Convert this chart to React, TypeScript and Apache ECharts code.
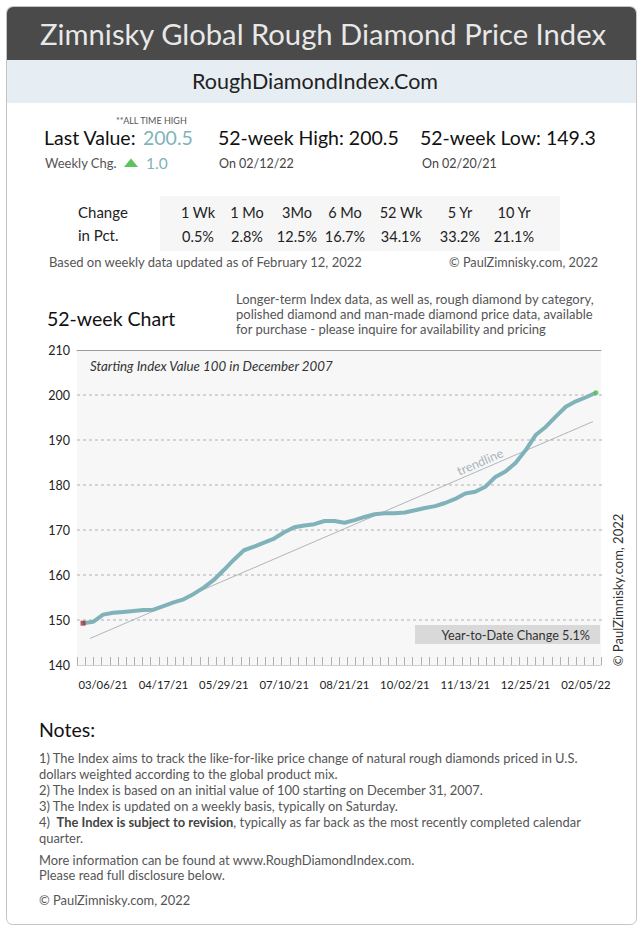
import React, { useEffect, useRef } from "react";
import * as echarts from "echarts";

const dates = [
  "02/20/21", "02/27/21", "03/06/21", "03/13/21", "03/20/21", "03/27/21", "04/03/21", "04/10/21",
  "04/17/21", "04/24/21", "05/01/21", "05/08/21", "05/15/21", "05/22/21", "05/29/21", "06/05/21",
  "06/12/21", "06/19/21", "06/26/21", "07/03/21", "07/10/21", "07/17/21", "07/24/21", "07/31/21",
  "08/07/21", "08/14/21", "08/21/21", "08/28/21", "09/04/21", "09/11/21", "09/18/21", "09/25/21",
  "10/02/21", "10/09/21", "10/16/21", "10/23/21", "10/30/21", "11/06/21", "11/13/21", "11/20/21",
  "11/27/21", "12/04/21", "12/11/21", "12/18/21", "12/25/21", "01/01/22", "01/08/22", "01/15/22",
  "01/22/22", "01/29/22", "02/05/22", "02/12/22",
];

const indexValues = [
  149.3, 149.6, 151.2, 151.6, 151.8, 152.0, 152.2, 152.3, 153.1, 153.9,
  154.6, 155.8, 157.2, 158.9, 161.1, 163.4, 165.5, 166.3, 167.2, 168.1,
  169.5, 170.6, 171.0, 171.3, 172.0, 172.0, 171.6, 172.2, 172.9, 173.5,
  173.7, 173.7, 173.9, 174.4, 174.9, 175.3, 176.0, 176.9, 178.1, 178.5,
  179.6, 181.8, 183.0, 184.9, 187.7, 191.1, 192.9, 195.2, 197.4, 198.6,
  199.5, 200.5,
];

const trendX = [0.7, 50.7];
const trendY = [145.9, 194.1];

const labelIdx = [2, 8, 14, 20, 26, 32, 38, 44, 50];
const yMin = 140;
const yMax = 210;
const yStep = 10;
const gridValues = [150, 160, 170, 180, 190, 200];

const periods = ["1 Wk", "1 Mo", "3Mo", "6 Mo", "52 Wk", "5 Yr", "10 Yr"];
const pctChanges = ["0.5%", "2.8%", "12.5%", "16.7%", "34.1%", "33.2%", "21.1%"];
const periodX = [198, 247, 297, 345, 401, 460, 514];

const FONT = "Lato, 'Open Sans', sans-serif";

function T(text: string, x: number, y: number, size: number, color: string, opts: any = {}) {
  const align = opts.align || "left";
  return {
    type: "text",
    x,
    y,
    rotation: opts.rotation || 0,
    z: 10,
    style: {
      text,
      fill: color,
      fontSize: size,
      fontFamily: FONT,
      fontWeight: opts.weight || "normal",
      fontStyle: opts.italic ? "italic" : "normal",
      textAlign: align,
      align,
      textVerticalAlign: "middle",
      verticalAlign: "middle",
      rich: opts.rich,
    },
  };
}

export default function App() {
  const ref = useRef<HTMLDivElement>(null);

  useEffect(() => {
    if (!ref.current) return;
    const chart = echarts.init(ref.current, null, { renderer: "svg" });

    const graphics: any[] = [
      {
        type: "rect",
        shape: { x: 6.5, y: 6.5, width: 630, height: 918, r: 6 },
        style: { fill: "none", stroke: "#c4c4c4", lineWidth: 1 },
        z: 0,
      },
      {
        type: "rect",
        shape: { x: 7, y: 7, width: 629, height: 53, r: [6, 6, 0, 0] },
        style: { fill: "#4a4a4a" },
        z: 1,
      },
      {
        type: "rect",
        shape: { x: 7, y: 60, width: 629, height: 43 },
        style: { fill: "#e6eef3" },
        z: 1,
      },
      T("Zimnisky Global Rough Diamond Price Index", 323, 33, 29.2, "#e8e8e8", { align: "center" }),
      T("RoughDiamondIndex.Com", 315, 81, 21.5, "#222222", { align: "center" }),

      T("**ALL TIME HIGH", 116, 120, 9, "#555555"),
      T("Last Value:", 44, 137, 19.5, "#111111"),
      T("200.5", 143, 137, 19.5, "#7fb3b8"),
      T("52-week High: 200.5", 218, 137, 19.5, "#111111"),
      T("52-week Low: 149.3", 420, 137, 19.5, "#111111"),
      T("Weekly Chg.", 45, 163, 13, "#555555"),
      {
        type: "polygon",
        shape: { points: [[124, 167], [131, 158.5], [138, 167]] },
        style: { fill: "#5cc45c" },
        z: 10,
      },
      T("1.0", 146, 163, 15.5, "#7fb3b8"),
      T("On 02/12/22", 219, 163, 12.5, "#444444"),
      T("On 02/20/21", 422, 163, 12.5, "#444444"),

      {
        type: "rect",
        shape: { x: 160, y: 196, width: 400, height: 55 },
        style: { fill: "#f6f6f6" },
        z: 2,
      },
      T("Change", 78, 212, 15, "#222222"),
      T("in Pct.", 78, 235, 15, "#222222"),
      ...periods.map((p, i) => T(p, periodX[i], 212, 14.5, "#222222", { align: "center" })),
      ...pctChanges.map((p, i) => T(p, periodX[i], 236, 14.5, "#222222", { align: "center" })),
      T("Based on weekly data updated as of February 12, 2022", 49, 262, 13, "#555555"),
      T("© PaulZimnisky.com, 2022", 598, 262, 12.7, "#555555", { align: "right" }),

      T("52-week Chart", 47, 318, 19.5, "#111111"),
      T("Longer-term Index data, as well as, rough diamond by category,", 236, 299, 13, "#555555"),
      T("polished diamond and man-made diamond price data, available", 236, 314, 13, "#555555"),
      T("for purchase - please inquire for availability and pricing", 236, 329, 13, "#555555"),

      T("Starting Index Value 100 in December 2007", 90, 366, 13.3, "#333333", { italic: true }),
      T("trendline", 480, 462, 12.5, "#a9b4bb", { align: "center", rotation: (23.3 * Math.PI) / 180 }),
      {
        type: "rect",
        shape: { x: 415, y: 625, width: 185, height: 19 },
        style: { fill: "#d9d9d9" },
        z: 5,
      },
      T("Year-to-Date Change 5.1%", 590, 634.5, 12.7, "#333333", { align: "right" }),
      T("© PaulZimnisky.com, 2022", 618, 590, 13, "#333333", { align: "center", rotation: Math.PI / 2 }),

      T("Notes:", 39, 729, 19.5, "#111111"),
      T("1) The Index aims to track the like-for-like price change of natural rough diamonds priced in U.S.", 39, 758, 12.9, "#555555"),
      T("dollars weighted according to the global product mix.", 39, 774, 12.9, "#555555"),
      T("2) The Index is based on an initial value of 100 starting on December 31, 2007.", 39, 790, 12.9, "#555555"),
      T("3) The Index is updated on a weekly basis, typically on Saturday.", 39, 806, 12.9, "#555555"),
      T(
        "4)  {b|The Index is subject to revision}, typically as far back as the most recently completed calendar",
        39,
        822,
        12.9,
        "#555555",
        {
          rich: {
            b: { fontWeight: "bold", fill: "#444444", fontSize: 12.9, fontFamily: FONT },
          },
        }
      ),
      T("quarter.", 39, 838, 12.9, "#555555"),
      T("More information can be found at www.RoughDiamondIndex.com.", 39, 860, 12.9, "#555555"),
      T("Please read full disclosure below.", 39, 875, 12.9, "#555555"),
      T("© PaulZimnisky.com, 2022", 39, 900, 12.9, "#555555"),
    ];

    chart.setOption({
      animation: false,
      backgroundColor: "transparent",
      textStyle: { fontFamily: FONT },
      graphic: { elements: graphics },
      grid: {
        left: 77,
        right: 42,
        top: 350,
        bottom: 267,
        show: false,
      },
      xAxis: [
        {
          type: "value",
          min: -0.6,
          max: 51.5,
          position: "bottom",
          axisLine: { show: false },
          axisTick: { show: false },
          splitLine: { show: false },
          axisLabel: {
            customValues: labelIdx,
            formatter: (v: number) => dates[Math.round(v)] || "",
            fontSize: 11.3,
            color: "#222222",
            margin: 14,
            fontFamily: FONT,
          },
        },
        {
          type: "value",
          min: 0,
          max: 64,
          interval: 1,
          position: "bottom",
          axisLine: { show: true, lineStyle: { color: "#cfcfcf", width: 1 } },
          axisTick: { show: true, inside: true, length: 8, lineStyle: { color: "#b0b0b0", width: 1 } },
          axisLabel: { show: false },
          splitLine: { show: false },
        },
        {
          type: "value",
          min: 0,
          max: 1,
          position: "top",
          axisLine: { show: true, lineStyle: { color: "#9a9a9a", width: 1 } },
          axisTick: { show: false },
          axisLabel: { show: false },
          splitLine: { show: false },
        },
      ],
      yAxis: {
        type: "value",
        min: yMin,
        max: yMax,
        interval: yStep,
        axisLine: { show: false },
        axisTick: { show: false },
        axisLabel: { fontSize: 12.5, color: "#222222", margin: 7, fontFamily: FONT },
        splitArea: { show: true, areaStyle: { color: ["#f7f7f7", "#f7f7f7"] } },
        splitLine: { show: false },
      },
      series: [
        {
          type: "custom",
          name: "gridlines",
          xAxisIndex: 0,
          silent: true,
          z: 2,
          data: gridValues.map((v) => [0, v]),
          encode: { x: 0, y: 1 },
          renderItem: (params: any, api: any) => {
            const cs = params.coordSys;
            const y = Math.round(api.coord([0, api.value(1)])[1]);
            const children: any[] = [];
            for (let x = cs.x; x < cs.x + cs.width; x += 6) {
              children.push({
                type: "rect",
                shape: { x, y: y - 0.5, width: 3, height: 1 },
                style: { fill: "#b0b0b0" },
              });
            }
            return { type: "group", children };
          },
        },
        {
          type: "line",
          name: "trend",
          xAxisIndex: 0,
          data: trendX.map((x, i) => [x, trendY[i]]),
          symbol: "none",
          lineStyle: { color: "#9aa6ae", width: 0.8 },
          z: 4,
          silent: true,
        },
        {
          type: "line",
          name: "index",
          xAxisIndex: 0,
          data: indexValues.map((v, i) => [i, v]),
          symbol: "none",
          lineStyle: { color: "#80b2ba", width: 4 },
          z: 5,
        },
        {
          type: "scatter",
          xAxisIndex: 0,
          data: [
            { value: [0, indexValues[0]], symbol: "rect", symbolSize: 5, itemStyle: { color: "#a0323a" } },
            {
              value: [indexValues.length - 1, indexValues[indexValues.length - 1]],
              symbol: "circle",
              symbolSize: 5,
              itemStyle: { color: "#4cc24c" },
            },
          ],
          z: 6,
        },
      ],
    });

    return () => chart.dispose();
  }, []);

  return (
    <div
      ref={ref}
      style={{ position: "absolute", left: 0, top: 0, width: 643, height: 932 }}
    />
  );
}
